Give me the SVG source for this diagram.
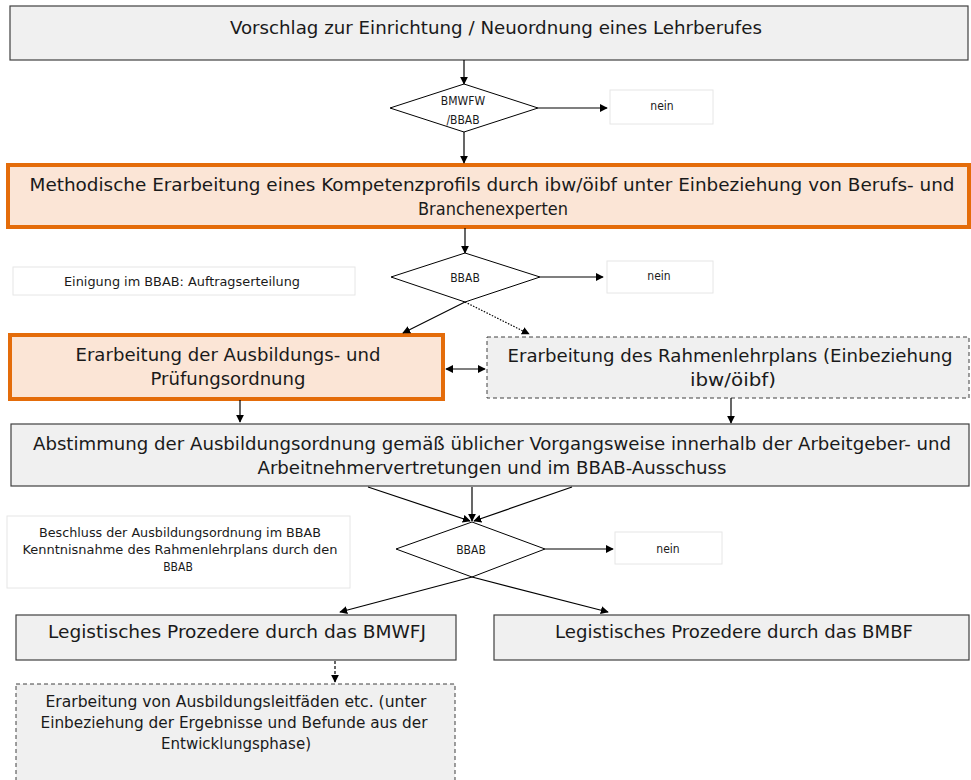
<svg xmlns="http://www.w3.org/2000/svg" width="971" height="780" viewBox="0 0 971 780">
<defs>
<style>
text{font-family:"DejaVu Sans Condensed","Liberation Sans Narrow","Liberation Sans",sans-serif;fill:#1a1a1a;text-anchor:middle;dominant-baseline:middle}
.big{font-size:18px}
.mid{font-size:15px}
.sm{font-size:12px}
.gray{fill:#f0f0f0;stroke:#404040;stroke-width:1.2}
.orange{fill:#fbe5d6;stroke:#e46c0a;stroke-width:4}
.dash{fill:#f0f0f0;stroke:#404040;stroke-width:1;stroke-dasharray:4 3}
.note{fill:#ffffff;stroke:#e6e6e6;stroke-width:1}
.dia{fill:#ffffff;stroke:#000;stroke-width:1}
.ln{stroke:#000;stroke-width:1.2;fill:none}
</style>
<marker id="ah" viewBox="0 0 10 10" refX="9" refY="5" markerWidth="8" markerHeight="8" markerUnits="userSpaceOnUse" orient="auto-start-reverse"><path d="M0,0 L10,5 L0,10 z" fill="#000"/></marker>
</defs>

<g id="n-vorschlag">
<rect class="gray" x="10" y="6" width="958" height="54"/>
<text class="big" x="496" y="29" textLength="532" lengthAdjust="spacingAndGlyphs">Vorschlag zur Einrichtung / Neuordnung eines Lehrberufes</text>
</g>

<g id="d-bmwfw">
<polygon class="dia" points="390,108 464,84 538,108 464,132"/>
<text class="sm" x="463" y="101">BMWFW</text>
<text class="sm" x="463" y="120">/BBAB</text>
</g>

<g id="n-nein1">
<rect class="note" x="610" y="90" width="103" height="34"/>
<text class="sm" x="662" y="106">nein</text>
</g>

<g id="n-methodische">
<rect class="orange" x="8" y="165" width="961" height="62"/>
<text class="big" x="492" y="186" textLength="925" lengthAdjust="spacingAndGlyphs">Methodische Erarbeitung eines Kompetenzprofils durch ibw/öibf unter Einbeziehung von Berufs- und</text>
<text class="big" x="493" y="210" textLength="150" lengthAdjust="spacingAndGlyphs">Branchenexperten</text>
</g>

<g id="n-einigung">
<rect class="note" x="13" y="267" width="342" height="28"/>
<text class="sm" x="182" y="282" textLength="236" lengthAdjust="spacingAndGlyphs">Einigung im BBAB: Auftragserteilung</text>
</g>

<g id="d-bbab1">
<polygon class="dia" points="391,277 465,253 540,277 465,302"/>
<text class="sm" x="465" y="278">BBAB</text>
</g>

<g id="n-nein2">
<rect class="note" x="607" y="261" width="106" height="32"/>
<text class="sm" x="659" y="276">nein</text>
</g>

<g id="n-ausbildung">
<rect class="orange" x="10" y="335" width="433" height="64"/>
<text class="big" x="228" y="356" textLength="305" lengthAdjust="spacingAndGlyphs">Erarbeitung der Ausbildungs- und</text>
<text class="big" x="228" y="380" textLength="155" lengthAdjust="spacingAndGlyphs">Prüfungsordnung</text>
</g>

<g id="n-rahmenlehrplan">
<rect class="dash" x="487" y="337" width="482" height="61"/>
<text class="big" x="730" y="357" textLength="445" lengthAdjust="spacingAndGlyphs">Erarbeitung des Rahmenlehrplans (Einbeziehung</text>
<text class="big" x="733" y="381" textLength="86" lengthAdjust="spacingAndGlyphs">ibw/öibf)</text>
</g>

<g id="n-abstimmung">
<rect class="gray" x="11" y="424" width="958" height="62"/>
<text class="big" x="492" y="445" textLength="918" lengthAdjust="spacingAndGlyphs">Abstimmung der Ausbildungsordnung gemäß üblicher Vorgangsweise innerhalb der Arbeitgeber- und</text>
<text class="big" x="492" y="469" textLength="469" lengthAdjust="spacingAndGlyphs">Arbeitnehmervertretungen und im BBAB-Ausschuss</text>
</g>

<g id="n-beschluss">
<rect class="note" x="7" y="516" width="343" height="72"/>
<text class="sm" x="180" y="533" textLength="282" lengthAdjust="spacingAndGlyphs">Beschluss der Ausbildungsordnung im BBAB</text>
<text class="sm" x="180" y="550" textLength="315" lengthAdjust="spacingAndGlyphs">Kenntnisnahme des Rahmenlehrplans durch den</text>
<text class="sm" x="178" y="567">BBAB</text>
</g>

<g id="d-bbab2">
<polygon class="dia" points="396,549 472,522 545,549 472,577"/>
<text class="sm" x="471" y="550">BBAB</text>
</g>

<g id="n-nein3">
<rect class="note" x="615" y="532" width="107" height="32"/>
<text class="sm" x="668" y="549">nein</text>
</g>

<g id="n-bmwfj">
<rect class="gray" x="16" y="615" width="440" height="45"/>
<text class="big" x="237" y="633" textLength="378" lengthAdjust="spacingAndGlyphs">Legistisches Prozedere durch das BMWFJ</text>
</g>

<g id="n-bmbf">
<rect class="gray" x="494" y="615" width="475" height="45"/>
<text class="big" x="734" y="633" textLength="358" lengthAdjust="spacingAndGlyphs">Legistisches Prozedere durch das BMBF</text>
</g>

<g id="n-leitfaeden">
<rect class="dash" x="16" y="684" width="439" height="110"/>
<text class="mid" x="236" y="702" textLength="381" lengthAdjust="spacingAndGlyphs">Erarbeitung von Ausbildungsleitfäden etc. (unter</text>
<text class="mid" x="234" y="723" textLength="387" lengthAdjust="spacingAndGlyphs">Einbeziehung der Ergebnisse und Befunde aus der</text>
<text class="mid" x="236" y="744" textLength="150" lengthAdjust="spacingAndGlyphs">Entwicklungsphase)</text>
</g>

<g id="connectors">
<line class="ln" x1="464" y1="60" x2="464" y2="84" marker-end="url(#ah)"/>
<line class="ln" x1="538" y1="108" x2="607" y2="108" marker-end="url(#ah)"/>
<line class="ln" x1="464" y1="132" x2="464" y2="163" marker-end="url(#ah)"/>
<line class="ln" x1="465" y1="228" x2="465" y2="253" marker-end="url(#ah)"/>
<line class="ln" x1="540" y1="277" x2="603" y2="277" marker-end="url(#ah)"/>
<line class="ln" x1="465" y1="302" x2="403" y2="333" marker-end="url(#ah)"/>
<line class="ln" x1="465" y1="302" x2="529" y2="334" stroke-dasharray="1.5 1.5" stroke-width="1" marker-end="url(#ah)"/>
<line class="ln" x1="446" y1="369" x2="485" y2="369" marker-start="url(#ah)" marker-end="url(#ah)"/>
<line class="ln" x1="240" y1="400" x2="240" y2="422" marker-end="url(#ah)"/>
<line class="ln" x1="731" y1="398" x2="731" y2="423" marker-end="url(#ah)"/>
<line class="ln" x1="368" y1="487" x2="470" y2="521" marker-end="url(#ah)"/>
<line class="ln" x1="472" y1="487" x2="472" y2="521" marker-end="url(#ah)"/>
<line class="ln" x1="572" y1="487" x2="474" y2="521" marker-end="url(#ah)"/>
<line class="ln" x1="545" y1="549" x2="613" y2="549" marker-end="url(#ah)"/>
<line class="ln" x1="472" y1="577" x2="340" y2="612" marker-end="url(#ah)"/>
<line class="ln" x1="472" y1="577" x2="608" y2="612" marker-end="url(#ah)"/>
<line class="ln" x1="335" y1="661" x2="335" y2="682" stroke-dasharray="3 2" marker-end="url(#ah)"/>
</g>
</svg>
